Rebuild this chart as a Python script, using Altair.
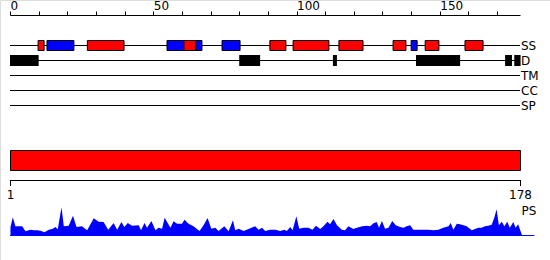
import altair as alt
import pandas as pd

# ---- data ----
tracks = ["SS", "D", "TM", "CC", "SP"]
track_start = [0, 0, 0, 0, 0]
track_end = [178, 178, 178, 178, 178]

top_ticks = list(range(0, 171, 10))

ss_start = [9.8, 12.9, 27.0, 54.8, 60.7, 64.9, 74.0, 90.7, 98.8, 114.8, 133.7, 140.0, 144.9, 158.8]
ss_end = [11.9, 22.3, 39.8, 60.7, 64.9, 67.0, 80.3, 96.3, 111.3, 123.2, 138.2, 142.1, 149.7, 165.1]
ss_type = ["H", "E", "H", "E", "H", "E", "E", "H", "H", "H", "H", "E", "H", "H"]

dis_start = [0, 80.0, 112.7, 141.7, 172.8, 176.0]
dis_end = [10.0, 87.3, 114.1, 157.1, 175.2, 178.2]

seq_range = [1, 178]
seq_labels = ["1", "178"]

ps_pos = [1.0, 1.8, 2.7, 5.05, 6.2, 7.9, 9.1, 10.2, 11.4, 12.8, 14.3, 15.5, 16.6, 17.4, 18.7, 19.5,
          21.2, 22.7, 23.9, 25.8, 27.6, 29.9, 31.6, 33.3, 34.9, 36.8, 38.0, 39.5, 40.5, 41.7, 43.2,
          45.5, 46.3, 47.5, 48.4, 49.9, 51.3, 52.4, 53.6, 54.5, 56.5, 57.6, 58.8, 60.5, 61.4, 62.8,
          64.5, 66.6, 68.0, 69.4, 70.7, 72.1, 73.2, 75.2, 76.7, 78.2, 79.0, 80.2, 81.9, 83.6, 85.9,
          87.1, 88.3, 89.4, 91.1, 92.9, 94.6, 96.1, 96.9, 98.1, 98.9, 100.2, 101.2, 102.7, 104.4,
          105.8, 107.0, 108.5, 109.6, 111.0, 111.9, 113.1, 114.3, 116.0, 117.1, 118.3, 120.0, 121.2,
          123.1, 124.7, 125.8, 127.0, 128.1, 128.9, 129.9, 131.0, 132.2, 133.5, 134.7, 136.2, 137.4,
          138.5, 139.7, 140.8, 142.6, 144.3, 146.0, 147.8, 149.5, 151.2, 153.0, 153.8, 154.7, 155.9,
          157.0, 158.2, 159.3, 161.1, 162.2, 163.4, 164.5, 165.7, 166.8, 168.0, 168.9, 169.7, 170.5,
          171.5, 172.4, 173.4, 174.3, 175.5, 176.3, 177.2, 178.6]
ps_val = [9.0, 18.7, 9.7, 9.7, 4.7, 6.3, 5.7, 5.7, 5.3, 3.7, 6.3, 7.0, 9.0, 6.7, 28.7, 9.7,
          10.3, 20.3, 9.0, 9.7, 5.7, 17.7, 14.3, 14.0, 6.3, 13.0, 6.3, 14.0, 9.0, 13.0, 10.3,
          10.7, 5.7, 13.0, 8.3, 15.0, 5.7, 8.3, 7.3, 18.3, 8.3, 14.7, 12.3, 12.3, 16.3, 12.3,
          9.7, 5.0, 10.7, 18.0, 7.3, 8.3, 5.0, 9.7, 4.7, 15.7, 5.7, 7.3, 5.0, 7.0, 9.7,
          6.3, 8.3, 5.0, 6.3, 6.3, 5.0, 6.3, 5.0, 9.0, 5.7, 19.7, 7.3, 8.3, 8.3,
          6.3, 10.3, 7.0, 9.7, 14.3, 11.7, 17.0, 10.7, 6.3, 5.7, 9.7, 7.0, 8.3,
          9.7, 10.3, 9.7, 12.7, 14.0, 8.3, 15.0, 7.3, 8.3, 15.0, 10.7, 9.0, 8.3,
          9.7, 10.7, 6.3, 6.3, 6.3, 6.3, 5.7, 6.3, 8.3, 9.7, 13.0, 6.3, 12.3,
          11.7, 10.7, 9.7, 5.7, 7.0, 8.3, 8.3, 9.7, 10.3, 11.3, 18.3, 26.7, 10.7,
          14.3, 9.7, 14.3, 8.3, 14.0, 8.3, 11.7, 0.0]
ps_base = [1, 182.8]

# ---- tables ----
track_df = pd.DataFrame({"track": tracks, "s": track_start, "e": track_end})
ss_df = pd.DataFrame({"s": ss_start, "e": ss_end, "type": ss_type})
dis_df = pd.DataFrame({"s": dis_start, "e": dis_end})
seq_df = pd.DataFrame({"pos": seq_range, "label": seq_labels})
bar_df = pd.DataFrame({"s": [seq_range[0]], "e": [seq_range[1]]})
ps_df = pd.DataFrame({"pos": ps_pos, "val": ps_val})
base_df = pd.DataFrame({"s": [ps_base[0]], "e": [ps_base[1]]})
pslab_df = pd.DataFrame({"pos": [seq_range[1]], "label": ["PS"]})

FONT = "DejaVu Sans"

def xtop():
    return alt.Scale(domain=[0, 178], range=[10, 520])

def xbot():
    return alt.Scale(domain=[1, 178], range=[10.5, 520.5])

track_y = alt.Y("track:N", scale=alt.Scale(type="point", domain=tracks, range=[45.5, 105.5], padding=0), axis=None)

top_axis = alt.Axis(orient="top", offset=-15, values=top_ticks,
                    labelExpr="datum.value % 50 === 0 ? datum.label : ''",
                    labelAlign="left", labelBaseline="alphabetic", labelPadding=2,
                    labelFlush=False, labelOverlap=False,
                    tickSize=4, tickColor="black", domainColor="black", labelColor="black",
                    labelFont=FONT, labelFontSize=12, grid=False, title=None)

lines = alt.Chart(track_df).mark_rule(color="black", strokeWidth=1).encode(
    x=alt.X("s:Q", scale=xtop(), axis=top_axis), x2="e:Q", y=track_y)

track_labels = alt.Chart(track_df).mark_text(align="left", baseline="middle", dx=1,
                                             font=FONT, fontSize=12, color="black").encode(
    x=alt.X("e:Q", scale=xtop(), axis=None), y=track_y, text="track:N")

ss = alt.Chart(ss_df).mark_rect(stroke="black", strokeWidth=1).encode(
    x=alt.X("s:Q", scale=xtop(), axis=None), x2="e:Q",
    y=alt.value(40.5), y2=alt.value(50.5),
    color=alt.Color("type:N", scale=alt.Scale(domain=["H", "E"], range=["#ff0000", "#0000ff"]), legend=None))

dis = alt.Chart(dis_df).mark_rect(color="black").encode(
    x=alt.X("s:Q", scale=xtop(), axis=None), x2="e:Q",
    y=alt.value(55), y2=alt.value(66))

bigbar = alt.Chart(bar_df).mark_rect(fill="#ff0000", stroke="black", strokeWidth=1).encode(
    x=alt.X("s:Q", scale=xbot(), axis=None), x2="e:Q",
    y=alt.value(150.5), y2=alt.value(170.5))

seq_line = alt.Chart(bar_df).mark_rule(color="black", strokeWidth=1).encode(
    x=alt.X("s:Q", scale=xbot(), axis=None), x2="e:Q", y=alt.value(180.5))

seq_ticks = alt.Chart(seq_df).mark_rule(color="black", strokeWidth=1).encode(
    x=alt.X("pos:Q", scale=xbot(), axis=None), y=alt.value(180), y2=alt.value(186))

seq_text = alt.Chart(seq_df).mark_text(align="center", baseline="middle", font=FONT,
                                       fontSize=12, color="black").encode(
    x=alt.X("pos:Q", scale=xbot(), axis=None), y=alt.value(195), text="label:N")

ps_area = alt.Chart(ps_df).mark_area(color="#0000ff", opacity=1, interpolate="linear").encode(
    x=alt.X("pos:Q", scale=xbot(), axis=None),
    y=alt.Y("val:Q", scale=alt.Scale(domain=[0, 30], range=[236, 206]), axis=None))

ps_baseline = alt.Chart(base_df).mark_rule(color="#0000ff", strokeWidth=1).encode(
    x=alt.X("s:Q", scale=alt.Scale(domain=[1, 178], range=[10, 520.5]), axis=None), x2="e:Q",
    y=alt.value(235.5))

ps_label = alt.Chart(pslab_df).mark_text(align="left", baseline="middle", dx=1, font=FONT,
                                         fontSize=12, color="black").encode(
    x=alt.X("pos:Q", scale=xbot(), axis=None), y=alt.value(211), text="label:N")

chart = alt.layer(lines, track_labels, ss, dis, bigbar, seq_line, seq_ticks, seq_text,
                  ps_baseline, ps_area, ps_label).resolve_scale(
    x="independent", y="independent", color="independent"
).properties(
    width=550, height=260, padding=0, autosize=alt.AutoSizeParams(type="none")
).configure_view(stroke=None).configure(background="white")

chart.save("out.html", embed_options={"renderer": "svg", "actions": False})
